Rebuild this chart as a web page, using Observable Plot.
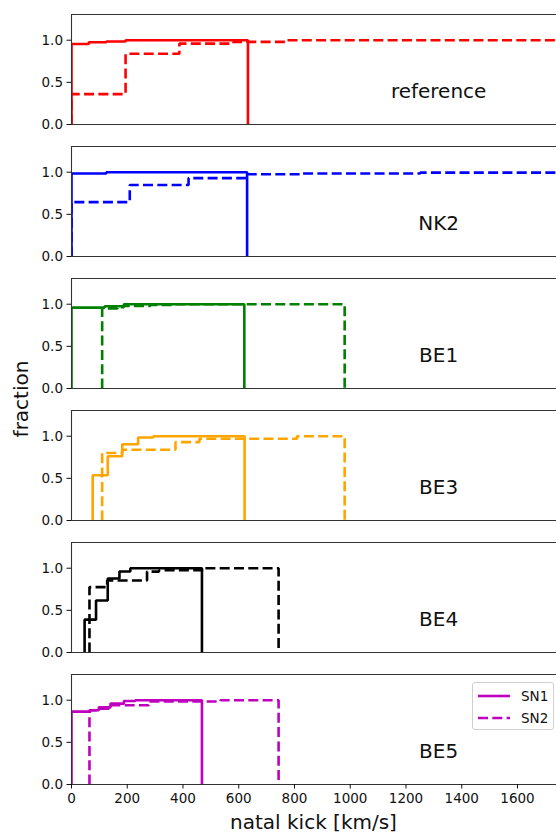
<!DOCTYPE html>
<html>
<head>
<meta charset="utf-8">
<script src="https://cdn.jsdelivr.net/npm/d3@7"></script>
<script src="https://cdn.jsdelivr.net/npm/@observablehq/plot@0.6"></script>
<style>
  html, body { margin: 0; padding: 0; background: #fff; }
  #wrap { position: relative; width: 556px; height: 834px; overflow: hidden; font-family: "DejaVu Sans", sans-serif; }
  #legend { position: absolute; left: 472px; top: 682px; width: 80px; height: 46px; border: 1px solid #d0d0d0; border-radius: 3px; background: rgba(255,255,255,0.85); font-size: 13.5px; color: #111; }
  #legend .row { position: absolute; left: 4px; height: 20px; display: flex; align-items: center; }
  #legend .row svg { margin-right: 10px; }
</style>
</head>
<body>
<div id="wrap"></div>
<script>
// ---- data ----
const panelNames = ["reference", "NK2", "BE1", "BE3", "BE4", "BE5"];
const panelColors = ["#ff0000", "#0000ff", "#008000", "#ffa500", "#000000", "#bf00bf"];
const xTicks = [0, 200, 400, 600, 800, 1000, 1200, 1400, 1600];
const yTicks = [0, 0.5, 1.0];

// bin edges (km/s) and cumulative fractions, SN1 (solid) and SN2 (dashed)
const refSN1Edges = [0, 62, 125, 194, 633];
const refSN1Frac  = [0.955, 0.975, 0.985, 1.0];
const refSN2Edges = [0, 194, 387, 581, 773, 1900];
const refSN2Frac  = [0.36, 0.84, 0.96, 0.98, 1.0];

const nk2SN1Edges = [0, 125, 630];
const nk2SN1Frac  = [0.985, 1.0];
const nk2SN2Edges = [0, 209, 420, 630, 827, 1251, 1900];
const nk2SN2Frac  = [0.645, 0.848, 0.93, 0.975, 0.985, 0.995];

const be1SN1Edges = [0, 119, 188, 620];
const be1SN1Frac  = [0.96, 0.975, 1.0];
const be1SN2Edges = [110, 165, 188, 283, 373, 980];
const be1SN2Frac  = [0.95, 0.965, 0.98, 0.99, 1.0];

const be3SN1Edges = [76, 130, 182, 239, 293, 621];
const be3SN1Frac  = [0.537, 0.763, 0.905, 0.985, 1.0];
const be3SN2Edges = [110, 182, 373, 459, 809, 980];
const be3SN2Frac  = [0.80, 0.84, 0.93, 0.97, 1.0];

const be4SN1Edges = [47, 88, 130, 172, 211, 468];
const be4SN1Frac  = [0.39, 0.617, 0.878, 0.961, 1.0];
const be4SN2Edges = [64.5, 128, 271, 314, 474, 743];
const be4SN2Frac  = [0.776, 0.854, 0.96, 0.975, 1.0];

const be5SN1Edges = [0, 68, 98, 140, 188, 229, 468];
const be5SN1Frac  = [0.865, 0.88, 0.915, 0.96, 0.99, 1.0];
const be5SN2Edges = [64.5, 98, 140, 277, 534, 743];
const be5SN2Frac  = [0.88, 0.90, 0.94, 0.985, 1.0];

const sn1Series = [
  [refSN1Edges, refSN1Frac], [nk2SN1Edges, nk2SN1Frac], [be1SN1Edges, be1SN1Frac],
  [be3SN1Edges, be3SN1Frac], [be4SN1Edges, be4SN1Frac], [be5SN1Edges, be5SN1Frac]
];
const sn2Series = [
  [refSN2Edges, refSN2Frac], [nk2SN2Edges, nk2SN2Frac], [be1SN2Edges, be1SN2Frac],
  [be3SN2Edges, be3SN2Frac], [be4SN2Edges, be4SN2Frac], [be5SN2Edges, be5SN2Frac]
];

// ---- build step outlines (like matplotlib histtype="step", cumulative) ----
function stepRows(series) {
  const rows = [];
  series.forEach(([edges, fracs], i) => {
    const panel = panelNames[i], color = panelColors[i];
    rows.push({panel, color, x: edges[0], y: 0});
    fracs.forEach((f, j) => rows.push({panel, color, x: edges[j], y: f}));
    rows.push({panel, color, x: edges[edges.length - 1], y: 0});
  });
  return rows;
}
const sn1Rows = stepRows(sn1Series);
const sn2Rows = stepRows(sn2Series);

const xMax = 1740, yMax = 1.305;
const W = 556, H = 834;

const chart = Plot.plot({
  width: W,
  height: H,
  marginLeft: 71,
  marginRight: 0,
  marginTop: 13,
  marginBottom: 49,
  style: {fontFamily: "DejaVu Sans, sans-serif", fontSize: "13.5px", color: "#111", background: "white"},
  x: {domain: [0, xMax]},
  y: {domain: [0, yMax]},
  fy: {domain: panelNames, axis: null, paddingInner: 0.166, paddingOuter: 0},
  marks: [
    Plot.line(sn1Rows, {x: "x", y: "y", fy: "panel", z: "panel", stroke: "color",
      strokeWidth: 2.6, curve: "step-after", clip: true, strokeLinejoin: "miter", strokeLinecap: "butt"}),
    Plot.line(sn2Rows, {x: "x", y: "y", fy: "panel", z: "panel", stroke: "color",
      strokeWidth: 2.6, curve: "step-after", clip: true, strokeDasharray: "10,4.3", strokeLinejoin: "miter", strokeLinecap: "butt"}),
    Plot.ruleY([0, yMax], {stroke: "#333", strokeWidth: 1.1}),
    Plot.ruleX([0], {stroke: "#333", strokeWidth: 1.1}),
    Plot.axisY({ticks: yTicks, tickFormat: d3.format(".1f"), tickSize: 4.5, tickPadding: 4, label: null, fontSize: 13.5}),
    Plot.axisX({ticks: xTicks, tickFormat: d => String(d), tickSize: 4.5, tickPadding: 4, label: null, fontSize: 13.5}),
    Plot.text(panelNames, {fy: d => d, x: xMax * 0.757, y: yMax * 0.3, text: d => d,
      fontSize: 20, textAnchor: "middle", fill: "#111"})
  ]
});

const wrap = document.getElementById("wrap");
wrap.appendChild(chart);

// axis titles
const svg = d3.select(chart);
svg.append("text")
  .attr("transform", "translate(22,399) rotate(-90)")
  .attr("text-anchor", "middle").attr("dominant-baseline", "middle")
  .attr("font-size", 20).attr("fill", "#111").text("fraction");
svg.append("text")
  .attr("x", 71 + (W - 71) / 2).attr("y", 823)
  .attr("text-anchor", "middle").attr("dominant-baseline", "middle")
  .attr("font-size", 20).attr("fill", "#111").text("natal kick [km/s]");

// legend (last panel)
const legendColor = panelColors[panelColors.length - 1];
const legend = document.createElement("div");
legend.id = "legend";
legend.innerHTML = [["SN1", null, 5], ["SN2", "10,4.3", 27]].map(([lab, dash, top]) =>
  `<div class="row" style="top:${top - 2}px"><svg width="34" height="8"><line x1="1" y1="4" x2="33" y2="4" stroke="${legendColor}" stroke-width="2.6" ${dash ? `stroke-dasharray="${dash}"` : ""}/></svg><span>${lab}</span></div>`
).join("");
wrap.appendChild(legend);
</script>
</body>
</html>
